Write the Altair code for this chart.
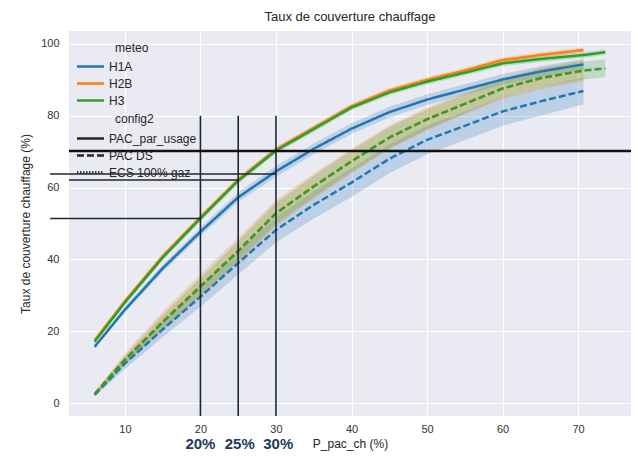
import altair as alt
import pandas as pd

# ---------------- data ----------------
x_main = [6, 10, 15, 20, 25, 30, 35, 40, 45, 50, 55, 60, 65, 70.7]
x_h3 = [6, 10, 15, 20, 25, 30, 35, 40, 45, 50, 55, 60, 65, 70.7, 73.6]

# config2 = PAC_par_usage (solid)
h1a_usage = [15.7, 26.0, 37.5, 47.7, 57.3, 64.5, 70.8, 76.4, 81.0, 84.5, 87.3, 90.1, 92.3, 94.3]
h2b_usage = [17.5, 28.4, 40.9, 51.7, 62.2, 70.6, 76.6, 82.6, 87.0, 90.0, 92.6, 95.5, 96.9, 98.3]
h3_usage = [17.1, 28.0, 40.5, 51.4, 61.9, 70.3, 76.3, 82.3, 86.5, 89.5, 92.0, 94.6, 95.8, 96.9, 97.7]

# config2 = PAC DS (dashed)
h1a_ds = [2.3, 11.0, 20.5, 29.6, 39.0, 48.2, 55.2, 61.4, 68.0, 73.3, 77.2, 81.2, 84.0, 86.9]
h2b_ds = [2.6, 12.2, 22.8, 32.6, 42.5, 52.9, 60.4, 67.4, 74.0, 79.1, 83.4, 87.6, 90.4, 92.5]
h3_ds = [2.5, 12.0, 22.5, 32.4, 42.3, 52.8, 60.3, 67.3, 73.9, 79.0, 83.3, 87.6, 90.5, 92.6, 93.2]

# confidence half-widths
ci_h1a_usage = [0.5, 0.8, 1.0, 1.2, 1.3, 1.5, 1.5, 1.5, 1.5, 1.5, 1.5, 1.5, 1.5, 1.5]
ci_h2b_usage = [0.4, 0.6, 0.7, 0.8, 0.8, 0.8, 0.8, 0.8, 0.8, 0.8, 0.8, 0.8, 0.8, 0.8]
ci_h3_usage = [0.4, 0.6, 0.7, 0.8, 0.8, 0.8, 0.8, 0.8, 0.8, 0.8, 0.8, 0.8, 0.8, 0.8, 0.8]
ci_h1a_ds = [0.5, 1.5, 2.2, 2.8, 3.2, 3.5, 3.8, 4.0, 4.0, 4.0, 4.0, 4.0, 4.0, 3.8]
ci_h2b_ds = [0.5, 1.6, 2.7, 3.3, 3.6, 3.7, 3.6, 3.5, 3.3, 3.2, 3.0, 3.0, 3.0, 3.0]
ci_h3_ds = [0.5, 1.2, 2.0, 2.5, 2.8, 3.0, 3.0, 3.0, 3.0, 2.8, 2.6, 2.5, 2.5, 2.5, 2.5]

meteo_names = ["H1A", "H2B", "H3"]
meteo_colors = ["#1f77b4", "#ff7f0e", "#2ca02c"]
config_names = ["PAC_par_usage", "PAC DS", "ECS 100% gaz"]

# annotation guide lines
vline_x = [20, 25, 30]
vline_top = [80, 80, 80]
hline_y = [70.2, 63.8, 62.1, 51.4]
hline_x1 = [2.6, 0.1, 2.6, 0.1]
hline_x2 = [77.0, 30.0, 25.0, 20.0]
pct_labels = ["20%", "25%", "30%"]
pct_x = [20.0, 25.2, 30.3]

# ---------------- build tables ----------------
rows = []
series = [
    ("H1A", "PAC_par_usage", x_main, h1a_usage, ci_h1a_usage),
    ("H2B", "PAC_par_usage", x_main, h2b_usage, ci_h2b_usage),
    ("H3", "PAC_par_usage", x_h3, h3_usage, ci_h3_usage),
    ("H1A", "PAC DS", x_main, h1a_ds, ci_h1a_ds),
    ("H2B", "PAC DS", x_main, h2b_ds, ci_h2b_ds),
    ("H3", "PAC DS", x_h3, h3_ds, ci_h3_ds),
]
for m, c, xs, ys, cis in series:
    for xv, yv, cv in zip(xs, ys, cis):
        rows.append({"P_pac_ch": xv, "taux": yv, "lo": yv - cv, "hi": yv + cv,
                     "meteo": m, "config2": c})
df = pd.DataFrame(rows)

vdf = pd.DataFrame({"x": vline_x, "top": vline_top, "bot": [-3.6] * 3})
hdf = pd.DataFrame({"y": hline_y, "x1": hline_x1, "x2": hline_x2})
pdf = pd.DataFrame({"t": pct_labels, "x": pct_x})

XDOM = [2.6, 77.0]
YDOM = [-3.6, 103.6]
FONT = "Liberation Sans"

xscale = alt.Scale(domain=XDOM, nice=False, zero=False)
yscale = alt.Scale(domain=YDOM, nice=False, zero=False)

color_legend = alt.Legend(
    title=None, orient="none", legendX=11, legendY=25,
    symbolType="M-1.5,0H1.5", symbolSize=324, symbolStrokeWidth=2.5,
    symbolOpacity=1,
    labelFontSize=12, labelFont=FONT, labelColor="#262626", labelOffset=8,
    rowPadding=0,
)
color_scale = alt.Scale(domain=meteo_names, range=meteo_colors)

dash_enc = alt.StrokeDash(
    "config2:N",
    scale=alt.Scale(domain=config_names, range=[[1, 0], [7, 3], [1.5, 1.5]]),
    legend=alt.Legend(
        title=None, orient="none", legendX=11, legendY=97,
        symbolType="M-1.5,0H1.5", symbolSize=324, symbolStrokeWidth=2.5,
        symbolStrokeColor="#262626",
        labelFontSize=12, labelFont=FONT, labelColor="#262626", labelOffset=8,
        rowPadding=0,
    ),
)

x_enc = alt.X("P_pac_ch:Q", scale=xscale, title="P_pac_ch (%)",
              axis=alt.Axis(values=[10, 20, 30, 40, 50, 60, 70]))
y_enc = alt.Y("taux:Q", scale=yscale, title="Taux de couverture chauffage (%)",
              axis=alt.Axis(values=[0, 20, 40, 60, 80, 100]))

bands = alt.Chart(df).mark_area(opacity=0.22).encode(
    x=x_enc,
    y=alt.Y("lo:Q", scale=yscale),
    y2="hi:Q",
    color=alt.Color("meteo:N", scale=color_scale, legend=color_legend),
    detail="config2:N",
)

lines = alt.Chart(df).mark_line(strokeWidth=2.5).encode(
    x=x_enc, y=y_enc,
    color=alt.Color("meteo:N", scale=color_scale, legend=color_legend),
    strokeDash=dash_enc,
)

vrules = alt.Chart(vdf).mark_rule(color="#1c2833", strokeWidth=1.6).encode(
    x=alt.X("x:Q", scale=xscale), y=alt.Y("top:Q", scale=yscale), y2="bot:Q"
)
hrules_full = alt.Chart(hdf.iloc[[0]]).mark_rule(color="#111111", strokeWidth=2.4).encode(
    x=alt.X("x1:Q", scale=xscale), x2="x2:Q", y=alt.Y("y:Q", scale=yscale)
)
hrules = alt.Chart(hdf.iloc[1:]).mark_rule(color="#1c2833", strokeWidth=1.6).encode(
    x=alt.X("x1:Q", scale=xscale), x2="x2:Q", y=alt.Y("y:Q", scale=yscale)
)

pct = alt.Chart(pdf).mark_text(fontSize=15, fontWeight="bold", color="#1f3a5a",
                               font=FONT, baseline="middle").encode(
    x=alt.X("x:Q", scale=xscale), y=alt.value(413), text="t:N"
)

leg_titles = alt.Chart(pd.DataFrame({"t": ["meteo"]})).mark_text(
    fontSize=12, font=FONT, color="#262626", align="left", baseline="middle"
).encode(x=alt.value(46), y=alt.value(17), text="t:N")
leg_titles2 = alt.Chart(pd.DataFrame({"t": ["config2"]})).mark_text(
    fontSize=12, font=FONT, color="#262626", align="left", baseline="middle"
).encode(x=alt.value(46), y=alt.value(88), text="t:N")

chart = alt.layer(
    bands, lines, vrules, hrules, hrules_full, pct, leg_titles, leg_titles2
).properties(
    width=562, height=385,
    title=alt.TitleParams("Taux de couverture chauffage", fontSize=13,
                          fontWeight="normal", font=FONT, color="#262626", offset=7),
    autosize=alt.AutoSizeParams(type="none"),
    padding={"left": 69, "top": 31, "right": 7, "bottom": 43},
).configure_view(
    fill="#EAEAF2", stroke=None
).configure_axis(
    grid=True, gridColor="white", gridWidth=1.2, domain=False, ticks=False,
    labelFont=FONT, titleFont=FONT, labelFontSize=11, titleFontSize=12,
    labelColor="#333333", titleColor="#262626", titleFontWeight="normal",
).configure_axisX(
    labelPadding=7, titlePadding=4,
).configure_axisY(
    labelPadding=10, titlePadding=8,
)

chart.save("out.html", embed_options={"renderer": "svg", "actions": False})
